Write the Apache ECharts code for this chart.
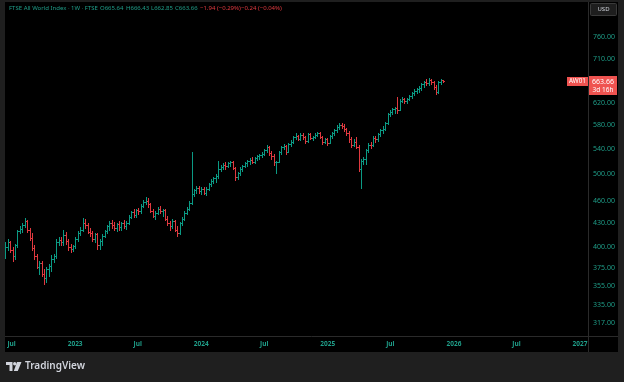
<!DOCTYPE html>
<html><head><meta charset="utf-8">
<script src="https://cdn.jsdelivr.net/npm/echarts@6/dist/echarts.min.js"></script>
<style>html,body{margin:0;padding:0;background:#1f1f1f;}#c{width:624px;height:382px;}</style>
</head><body><div id="c"></div>
<script>
// Weekly bars, first week starting Monday 2022-06-13
const firstWeek = '2022-06-13';
const opens = [392,400,406,397,389,402,420,423,428,433, 421,411,399,389,377,381,368,364,374,378, 386,389,406,409,406,415,407,400,398,401,
410,418,422,430,428,419,417,410,416,402, 407,414,420,426,430,428,424,429,425,430, 426,431,439,445,441,448,446,454,459,461,
456,447,440,444,450,446,448,436,430,426, 433,422,417,430,436,444,450,458,471,476, 479,474,478,472,478,485,489,494,497,508,
511,514,512,517,518,509,495,501,508,512, 517,520,522,519,525,528,530,532,538,543, 533,528,518,519,534,543,545,535,548,552,
560,562,557,563,559,553,565,558,560,564, 566,560,552,556,550,561,566,572,577,581, 578,573,566,556,546,552,543,507,520,523,
538,547,546,558,556,565,572,574,584,600, 605,609,612,608,625,628,624,629,634,640, 645,648,650,657,662,660,666,661,652,642,
661,665.64];
const highs = [406,410,408,400,404,422,427,430,437,435, 424,418,402,392,384,384,374,376,380,390, 392,410,412,412,421,419,410,404,403,412,
420,425,437,436,430,424,420,418,418,410, 416,422,428,433,435,432,431,433,432,434, 433,441,447,449,450,451,456,462,466,464,
458,449,446,452,453,450,449,440,433,436, 435,426,432,438,446,452,460,535,478,482, 482,480,481,480,487,492,496,500,521,514,
517,518,519,521,520,510,503,510,514,519, 522,525,526,527,530,532,534,540,546,545, 537,531,521,536,545,548,547,550,555,562,
566,564,566,566,562,567,567,562,566,569, 568,562,558,558,563,568,574,580,584,585, 582,576,570,560,556,560,546,524,527,540,
549,551,561,562,567,574,578,586,602,608, 612,614,632,628,632,631,630,636,642,648, 650,653,660,665,668,670,669,664,656,664,
668,666.43];
const lows = [387,396,394,384,386,400,417,419,425,419, 409,397,386,375,369,366,357,360,366,372, 382,387,402,403,403,404,397,394,395,399,
408,415,420,424,417,414,408,406,398,398, 403,412,418,422,424,421,420,422,422,424, 423,429,437,438,439,442,444,452,456,452,
445,438,436,442,444,440,434,428,422,424, 420,414,416,428,434,442,448,456,468,472, 472,470,470,469,476,482,486,488,494,505,
508,508,510,513,507,491,493,499,505,510, 513,516,517,517,522,524,527,530,535,530, 524,514,502,518,532,539,532,534,545,550,
556,554,555,556,550,551,556,554,558,561, 558,548,549,546,549,558,563,569,574,575, 570,563,552,543,545,541,505,479,516,515,
535,541,545,552,553,562,566,572,582,597, 601,603,603,607,622,620,621,626,631,637, 640,642,647,652,656,655,658,648,638,640,
658,662.85];
const closes = [400,406,397,389,402,420,423,428,433,421, 411,399,389,377,381,368,364,374,378,386, 389,406,409,406,415,407,400,398,401,410,
418,422,430,428,419,417,410,416,402,407, 414,420,426,430,428,424,429,425,430,426, 431,439,445,441,448,446,454,459,461,456,
447,440,444,450,446,448,436,430,426,433, 422,417,430,436,444,450,458,471,476,479, 474,478,472,478,485,489,494,497,508,511,
514,512,517,518,509,495,501,508,512,517, 520,522,519,525,528,530,532,538,543,533, 528,518,519,534,543,545,535,548,552,560,
562,557,563,559,553,565,558,560,564,566, 560,552,556,550,561,566,572,577,581,578, 573,566,556,546,552,543,507,520,523,538,
547,546,558,556,565,572,574,584,600,605, 609,612,608,625,628,624,629,634,640,645, 648,650,657,662,660,666,661,652,642,661,
665.64,663.66];
const priceTicks = [317,335,355,375,400,430,460,500,540,580,620,710,760];
const timeTicks = ['2022-07-01','2023-01-01','2023-07-01','2024-01-01','2024-07-01','2025-01-01','2025-07-01','2026-01-01','2026-07-01','2027-01-01'];

const WEEK = 7 * 86400000;
const t0 = Date.parse(firstWeek);
const data = opens.map((o, i) => [t0 + i * WEEK, o, highs[i], lows[i], closes[i]]);

const upColor = '#0b9a84', downColor = '#e0393f', axisText = '#1f9e89';
const font = '"Noto Sans", "DejaVu Sans", sans-serif';

const chart = echarts.init(document.getElementById('c'), null, {renderer: 'canvas'});

function txt(text, x, y, fill, size, extra) {
  return {
    type: 'text', z: 100, silent: true,
    style: Object.assign({text, x, y, fill, fontSize: size, fontFamily: font,
      align: 'left', verticalAlign: 'middle', textAlign: 'left', textVerticalAlign: 'middle'}, extra || {})
  };
}

chart.setOption({
  backgroundColor: '#1f1f1f',
  animation: false,
  grid: {left: 5, right: 36, top: 2, bottom: 46, containLabel: false, outerBoundsMode: 'none'},
  xAxis: {
    type: 'value',
    min: Date.parse('2022-06-12'),
    max: Date.parse('2027-01-24'),
    axisLine: {show: false}, axisTick: {show: false}, splitLine: {show: false},
    axisLabel: {
      customValues: timeTicks.map(s => Date.parse(s)),
      color: axisText, fontSize: 6.5, fontWeight: 'bold', fontFamily: font, margin: 5,
      hideOverlap: false,
      formatter: v => { const d = new Date(v); return d.getUTCMonth() === 6 ? 'Jul' : String(d.getUTCFullYear()); }
    }
  },
  yAxis: {
    type: 'log', logBase: 10, position: 'right',
    min: 305, max: 845,
    axisLine: {show: false}, axisTick: {show: false}, splitLine: {show: false},
    axisLabel: {
      customValues: priceTicks,
      color: axisText, fontSize: 7, fontFamily: font, margin: 5,
      formatter: v => Number(v).toFixed(2)
    }
  },
  series: [{
    type: 'custom',
    data: data,
    encode: {x: 0, y: [1, 2, 3, 4]},
    clip: true,
    renderItem: (params, api) => {
      const t = api.value(0);
      const o = api.value(1), h = api.value(2), l = api.value(3), c = api.value(4);
      const po = api.coord([t, o]), ph = api.coord([t, h]), pl = api.coord([t, l]), pc = api.coord([t, c]);
      const x = Math.round(po[0]) + 0.5;
      const col = c >= o ? upColor : downColor;
      const st = {stroke: col, lineWidth: 1};
      const yo = Math.round(po[1]) + 0.5, yc = Math.round(pc[1]) + 0.5;
      return {type: 'group', children: [
        {type: 'line', shape: {x1: x, y1: Math.round(ph[1]), x2: x, y2: Math.round(pl[1]) + 1}, style: st},
        {type: 'line', shape: {x1: x - 1.5, y1: yo, x2: x, y2: yo}, style: st},
        {type: 'line', shape: {x1: x, y1: yc, x2: x + 1.5, y2: yc}, style: st}
      ]};
    }
  }],
  graphic: [
    {type: 'rect', z: -10, silent: true, shape: {x: 5, y: 2, width: 613, height: 350}, style: {fill: '#000'}},
    {type: 'line', z: -5, silent: true, shape: {x1: 588.5, y1: 2, x2: 588.5, y2: 352}, style: {stroke: '#2a2a2a', lineWidth: 1}},
    {type: 'line', z: -5, silent: true, shape: {x1: 5, y1: 336.5, x2: 618, y2: 336.5}, style: {stroke: '#2a2a2a', lineWidth: 1}},
    txt('FTSE All World Index · 1W · FTSE', 9, 8.5, axisText, 6),
    txt('O665.64', 100, 8.5, axisText, 6),
    txt('H666.43', 126, 8.5, axisText, 6),
    txt('L662.85', 151, 8.5, axisText, 6),
    txt('C663.66', 175, 8.5, axisText, 6),
    txt('−1.94 (−0.29%)', 200, 8.5, '#e0393f', 6),
    txt('−0.24 (−0.04%)', 241, 8.5, '#e0393f', 6),
    {type: 'rect', z: 90, silent: true, shape: {x: 590.5, y: 3.5, width: 26, height: 12, r: 1}, style: {fill: '#1e1e1e', stroke: '#3a3a3a', lineWidth: 1}},
    txt('USD', 603.5, 9.5, '#d1d4dc', 6, {align: 'center', textAlign: 'center'}),
    {type: 'rect', z: 90, silent: true, shape: {x: 567, y: 77, width: 21, height: 9}, style: {fill: '#ef5350'}},
    txt('AW01', 577.5, 81.5, '#ffffff', 6.3, {align: 'center', textAlign: 'center'}),
    {type: 'rect', z: 90, silent: true, shape: {x: 589, y: 76, width: 28, height: 19}, style: {fill: '#ef5350'}},
    txt('663.66', 603, 81.5, '#ffffff', 7, {align: 'center', textAlign: 'center'}),
    txt('3d 16h', 603, 90.5, '#ffffff', 6.5, {align: 'center', textAlign: 'center'}),
    {type: 'polygon', z: 100, silent: true, shape: {points: [[6,362],[12.5,362],[12.5,371],[9.5,371],[9.5,365],[6,365]]}, style: {fill: '#d1d4dc'}},
    {type: 'circle', z: 100, silent: true, shape: {cx: 14.7, cy: 363.7, r: 1.7}, style: {fill: '#d1d4dc'}},
    {type: 'polygon', z: 100, silent: true, shape: {points: [[17,362],[21.5,362],[17.8,371],[13.8,371]]}, style: {fill: '#d1d4dc'}},
    txt('TradingView', 25, 366.5, '#d1d4dc', 10, {fontWeight: 600})
  ]
});
</script>
</body></html>
